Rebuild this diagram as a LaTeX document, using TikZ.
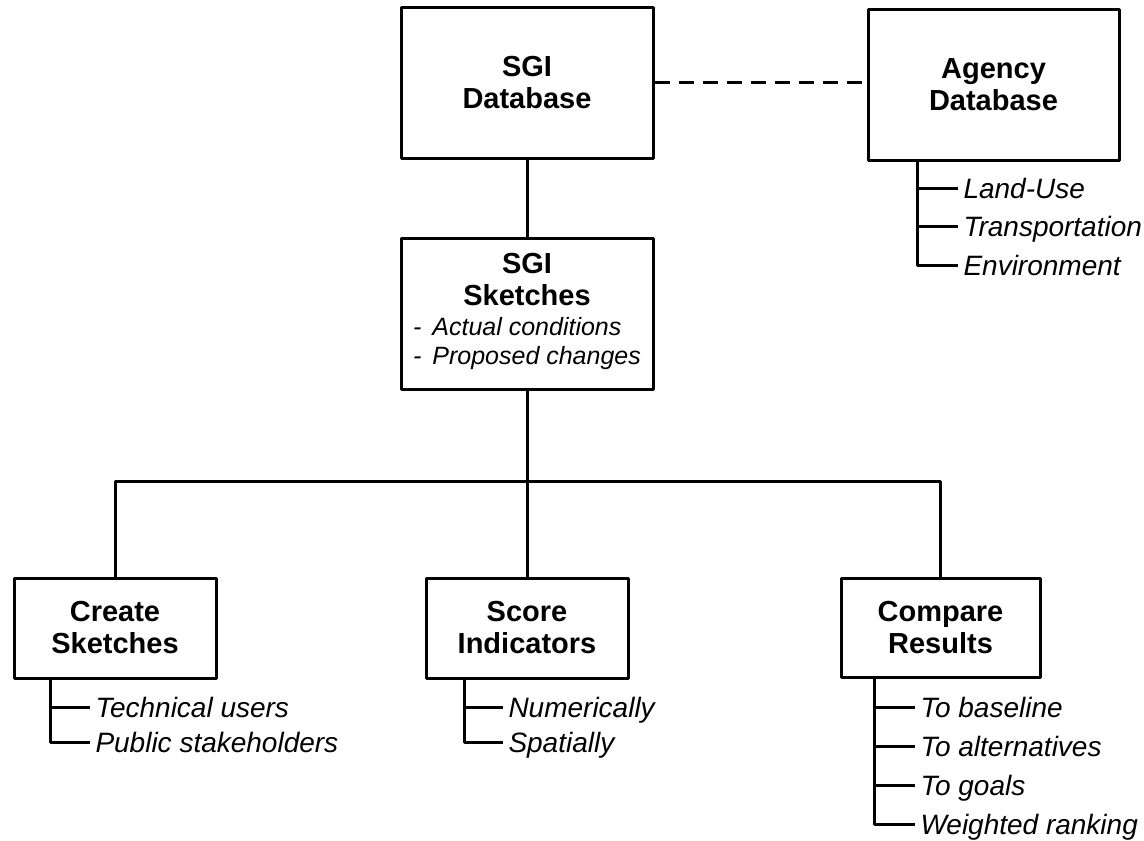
\documentclass[tikz,border=0pt]{standalone}
\usepackage{fontspec}
\setmainfont{Liberation Sans}
\newcommand{\subfont}{\mdseries\itshape\fontsize{25}{29}\selectfont}
\begin{document}
\begin{tikzpicture}[x=1pt, y=-1pt, line width=3pt, line join=round,
 box/.style={draw, rectangle, align=center, inner sep=0pt, font=\bfseries\fontsize{29}{32}\selectfont},
 item/.style={anchor=west, inner xsep=4pt, inner ysep=0pt, text height=20pt, text depth=0pt, font=\itshape\fontsize{28}{30}\selectfont},
 linkdash/.style={dash pattern=on 15pt off 9pt}]
 \useasboundingbox (0,0) rectangle (1144,841);
 \node[box, minimum width=252pt, minimum height=151pt] (sgidb) at (527,82.5) {SGI\\Database};
 \node[box, minimum width=251pt, minimum height=151pt] (agencydb) at (993.5,84.5) {Agency\\Database};
 \node[box, minimum width=252pt, minimum height=151pt] (sketches) at (527,313.5) {SGI\\Sketches\\[-2pt]%
 {\subfont\begin{tabular}[t]{@{}l@{}}-\hspace{11pt}Actual conditions\\-\hspace{11pt}Proposed changes\end{tabular}}};
 \node[box, minimum width=202pt, minimum height=100pt] (create) at (115,628) {Create\\Sketches};
 \node[box, minimum width=202pt, minimum height=100pt] (score) at (527,628) {Score\\Indicators};
 \node[box, minimum width=199pt, minimum height=99pt] (compare) at (940.5,627.5) {Compare\\Results};
 \coordinate (bus) at (527,481);
 \draw (sgidb) -- (sketches);
 \draw[linkdash] (sgidb.east) -- (sgidb.east -| agencydb.west);
 \draw (sketches) -- (bus);
 \draw (create) |- (bus) -| (compare);
 \draw (bus) -- (score);
 % sub items
 \coordinate (agbr) at ([xshift=51pt]agencydb.south west);
 \foreach \t [count=\i] in {Land-Use,Transportation,Environment}
 \node[item] (ag\i) at (958,{149.5+38.5*\i}) {\t};
 \draw (agbr) |- (ag3.west);
 \foreach \i in {1,2}
 \draw (ag\i.west -| agbr) -- (ag\i.west);
 \coordinate (crbr) at ([xshift=38pt]create.south west);
 \foreach \t [count=\i] in {Technical users,Public stakeholders}
 \node[item] (cr\i) at (90,{672+35*\i}) {\t};
 \draw (crbr) |- (cr2.west);
 \draw (cr1.west -| crbr) -- (cr1.west);
 \coordinate (scbr) at ([xshift=40pt]score.south west);
 \foreach \t [count=\i] in {Numerically,Spatially}
 \node[item] (sc\i) at (503,{672+35*\i}) {\t};
 \draw (scbr) |- (sc2.west);
 \draw (sc1.west -| scbr) -- (sc1.west);
 \coordinate (cpbr) at ([xshift=35pt]compare.south west);
 \foreach \t [count=\i] in {To baseline,To alternatives,To goals,Weighted ranking}
 \node[item] (cp\i) at (915,{667.7+39.3*\i}) {\t};
 \draw (cpbr) |- (cp4.west);
 \foreach \i in {1,2,3}
 \draw (cp\i.west -| cpbr) -- (cp\i.west);
\end{tikzpicture}
\end{document}
